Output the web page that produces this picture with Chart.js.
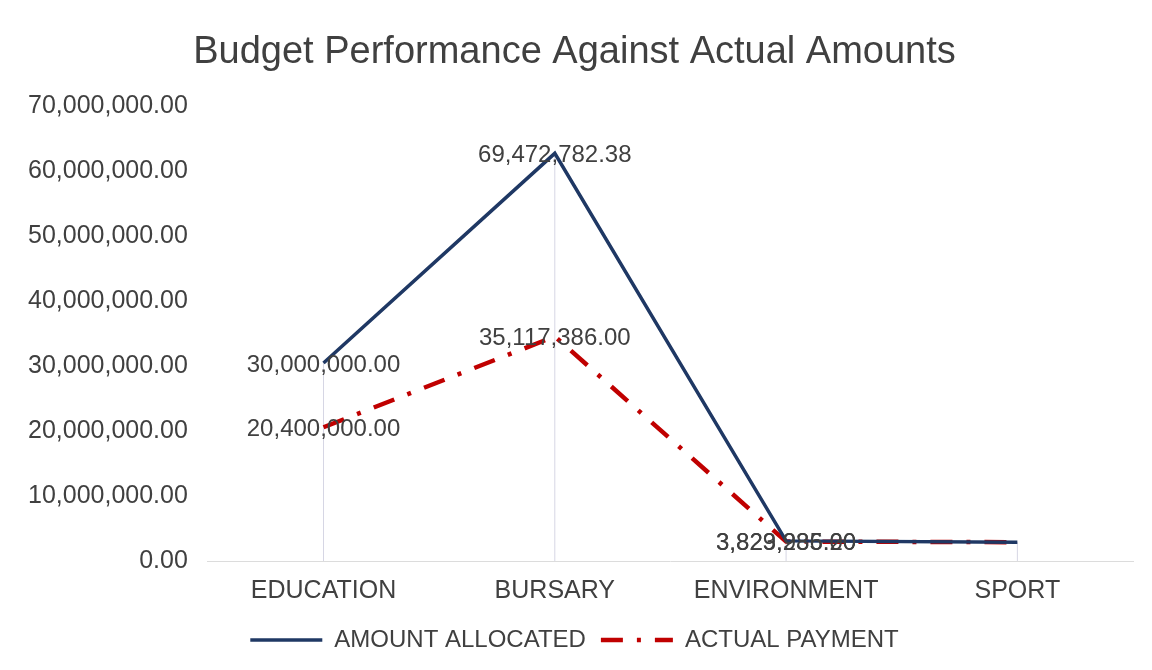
<!DOCTYPE html>
<html>
<head>
<meta charset="utf-8">
<script src="https://cdn.jsdelivr.net/npm/chart.js@4"></script>
<style>
    html, body { margin: 0; padding: 0; background: #fff; }
    #wrap { width: 1152px; height: 670px; }
</style>
</head>
<body>
<div id="wrap"><canvas id="budgetChart" width="1152" height="670"></canvas></div>
<script>
const categories = ['EDUCATION', 'BURSARY', 'ENVIRONMENT', 'SPORT'];
const allocated = [30500000, 62800000, 3100000, 2900000];
const actual = [20600000, 34600000, 3000000, 2900000];
// the printed data labels, as they read on the picture
const allocatedLabels = ['30,000,000.00', '69,472,782.38', '3,829,285.20', null];
const actualLabels = ['20,400,000.00', '35,117,386.00', '3,823,936.00', null];

const textColor = '#404040';
const fontFamily = '"Liberation Sans", Arial, sans-serif';

// vertical drop lines from the highest point down to the category axis
const dropLines = {
    id: 'dropLines',
    beforeDatasetsDraw(chart) {
        const ctx = chart.ctx;
        const yScale = chart.scales.y;
        const base = yScale.getPixelForValue(0);
        ctx.save();
        ctx.strokeStyle = '#d6d6e4';
        ctx.lineWidth = 1;
        categories.forEach((c, i) => {
            const x = chart.scales.x.getPixelForValue(i);
            const top = yScale.getPixelForValue(Math.max(allocated[i], actual[i]));
            ctx.beginPath();
            ctx.moveTo(x, top);
            ctx.lineTo(x, base);
            ctx.stroke();
        });
        ctx.restore();
    }
};

// text labels centred on the points
const pointLabels = {
    id: 'pointLabels',
    afterDatasetsDraw(chart) {
        const ctx = chart.ctx;
        const sets = [allocatedLabels, actualLabels];
        ctx.save();
        ctx.font = '24px ' + fontFamily;
        ctx.fillStyle = textColor;
        ctx.textAlign = 'center';
        ctx.textBaseline = 'middle';
        sets.forEach((labels, d) => {
            const meta = chart.getDatasetMeta(d);
            meta.data.forEach((pt, i) => {
                if (!labels[i]) return;
                ctx.fillText(labels[i], pt.x, pt.y + 2);
            });
        });
        ctx.restore();
    }
};

const ctx = document.getElementById('budgetChart').getContext('2d');

new Chart(ctx, {
    type: 'line',
    data: {
        labels: categories,
        datasets: [{
            label: 'AMOUNT ALLOCATED',
            data: allocated,
            borderColor: '#1f3864',
            backgroundColor: '#1f3864',
            borderWidth: 3.5,
            pointRadius: 0,
            tension: 0
        }, {
            label: 'ACTUAL PAYMENT',
            data: actual,
            borderColor: '#c00000',
            backgroundColor: '#c00000',
            borderWidth: 4.5,
            borderDash: [22, 14, 4, 14],
            pointRadius: 0,
            tension: 0
        }]
    },
    options: {
        responsive: false,
        animation: false,
        layout: { padding: { left: 16, right: 19, top: 30, bottom: 8 } },
        plugins: {
            title: {
                display: true,
                text: 'Budget Performance Against Actual Amounts',
                color: textColor,
                font: { family: fontFamily, size: 38, weight: 'normal' },
                padding: { top: 0, bottom: 31 }
            },
            legend: {
                position: 'bottom',
                labels: {
                    color: textColor,
                    font: { family: fontFamily, size: 24 },
                    usePointStyle: true,
                    pointStyle: 'line',
                    pointStyleWidth: 72,
                    padding: 15,
                    generateLabels(chart) {
                        const items = Chart.defaults.plugins.legend.labels.generateLabels(chart);
                        items.forEach((item, i) => {
                            const ds = chart.data.datasets[i];
                            item.lineDash = ds.borderDash || [];
                            item.lineWidth = ds.borderWidth;
                            item.strokeStyle = ds.borderColor;
                        });
                        return items;
                    }
                }
            },
            tooltip: { enabled: false }
        },
        scales: {
            x: {
                offset: true,
                grid: { display: false },
                border: { color: '#dcdcdc', width: 1 },
                ticks: {
                    color: textColor,
                    font: { family: fontFamily, size: 25, lineHeight: '8px' },
                    padding: 18
                }
            },
            y: {
                min: 0,
                max: 70000000,
                grid: { display: false },
                border: { display: false },
                ticks: {
                    stepSize: 10000000,
                    color: textColor,
                    font: { family: fontFamily, size: 25 },
                    padding: 12,
                    callback: v => v.toLocaleString('en-US', { minimumFractionDigits: 2, maximumFractionDigits: 2 })
                }
            }
        }
    },
    plugins: [dropLines, pointLabels]
});
</script>
</body>
</html>
